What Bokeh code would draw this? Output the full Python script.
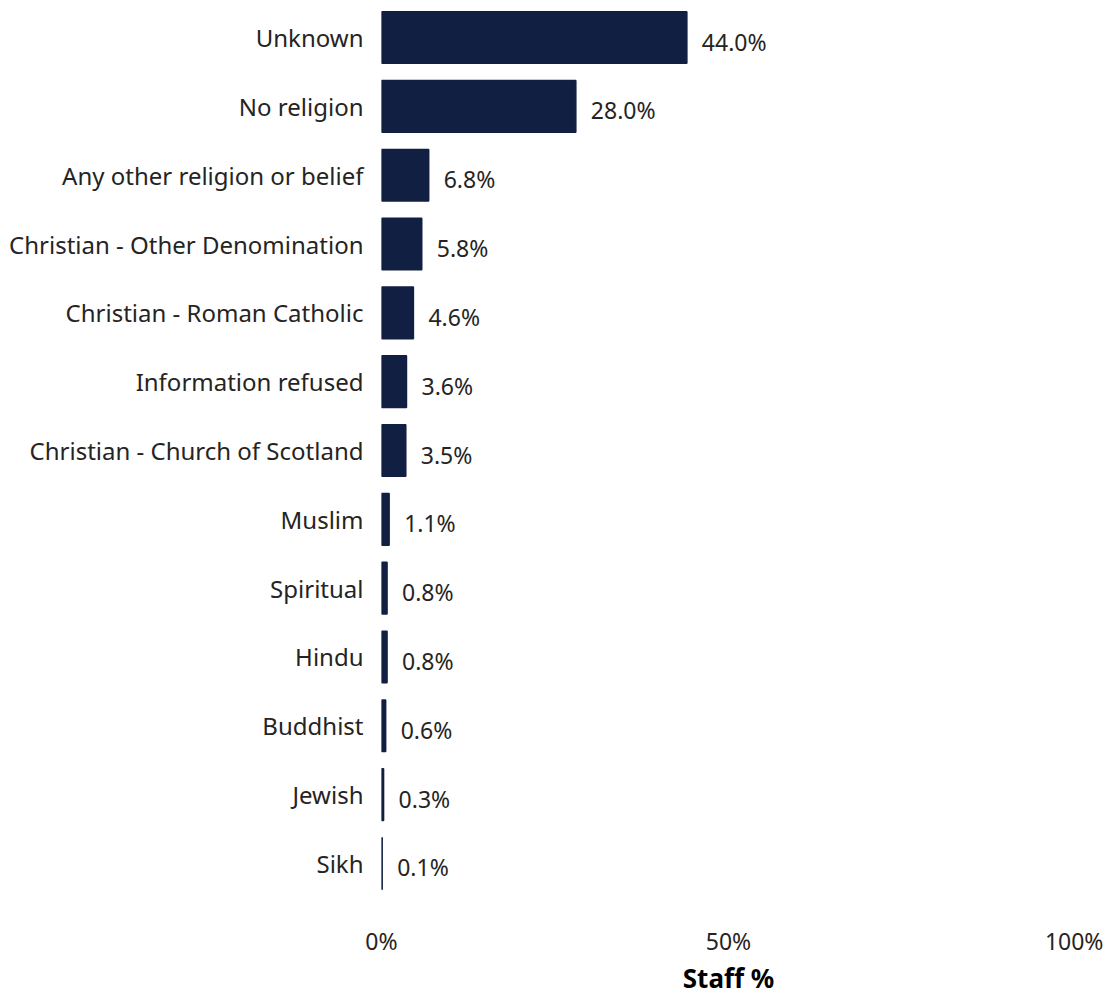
from bokeh.plotting import figure
from bokeh.models import ColumnDataSource, FactorRange, FixedTicker
from bokeh.core.properties import value
from bokeh.embed import file_html
from bokeh.resources import INLINE

categories = ["Unknown", "No religion", "Any other religion or belief",
              "Christian - Other Denomination", "Christian - Roman Catholic",
              "Information refused", "Christian - Church of Scotland",
              "Muslim", "Spiritual", "Hindu", "Buddhist", "Jewish", "Sikh"]
staff_pct = [44.0, 28.0, 6.8, 5.8, 4.6, 3.6, 3.5, 1.1, 0.8, 0.8, 0.6, 0.3, 0.1]
x_ticks = [0, 50, 100]
x_tick_labels = ["0%", "50%", "100%"]

FONT = "Noto Sans"
TEXT = "#252423"
BAR = "#111f42"

src = ColumnDataSource(dict(
    cat=categories,
    val=staff_pct,
    lab=[f"{v:.1f}%" for v in staff_pct],
))

p = figure(
    y_range=FactorRange(factors=categories[::-1], range_padding=-0.012),
    x_range=(0, 100),
    frame_width=694, frame_height=884,
    min_border_left=381, min_border_right=28, min_border_top=8, min_border_bottom=0,
    output_backend="svg", toolbar_location=None,
)

p.hbar(y="cat", right="val", left=0, height=0.75, source=src,
       fill_color=BAR, line_color=BAR, line_width=1.5)

p.text(x="val", y="cat", text="lab", source=src,
       x_offset=15, y_offset=4,
       text_align="left", text_baseline="middle",
       text_font=value(FONT), text_font_size="23px", text_color=TEXT)

p.outline_line_color = None
p.grid.visible = False
p.background_fill_color = "white"
p.border_fill_color = "white"

ya = p.yaxis[0]
ya.axis_line_color = None
ya.major_tick_line_color = None
ya.minor_tick_line_color = None
ya.major_tick_out = 0
ya.major_label_standoff = 18
ya.major_label_text_font = FONT
ya.major_label_text_font_size = "24px"
ya.major_label_text_color = TEXT

xa = p.xaxis[0]
xa.ticker = FixedTicker(ticks=x_ticks)
xa.major_label_overrides = {t: l for t, l in zip(x_ticks, x_tick_labels)}
xa.axis_line_color = None
xa.major_tick_line_color = None
xa.minor_tick_line_color = None
xa.major_tick_out = 0
xa.major_label_standoff = 32
xa.major_label_text_font = FONT
xa.major_label_text_font_size = "23px"
xa.major_label_text_color = TEXT
xa.axis_label = "Staff %"
xa.axis_label_standoff = 0
xa.axis_label_text_font = FONT
xa.axis_label_text_font_style = "bold"
xa.axis_label_text_font_size = "26px"
xa.axis_label_text_color = "#000000"

open("out.html", "w").write(file_html(p, INLINE))
